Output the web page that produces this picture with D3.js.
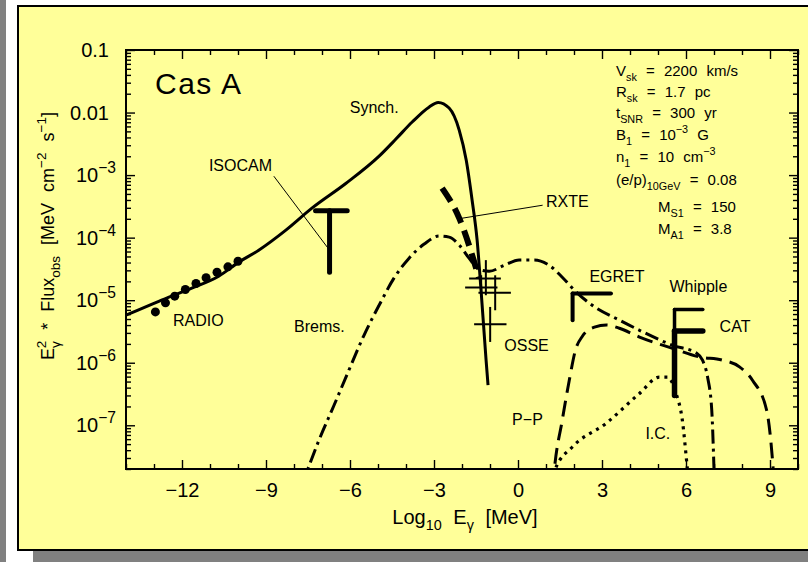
<!DOCTYPE html>
<html>
<head>
<meta charset="utf-8">
<script src="https://cdn.jsdelivr.net/npm/d3@7"></script>
<style>
  html, body { margin: 0; padding: 0; background: #fff; }
  svg { display: block; font-family: "Liberation Sans", Arial, Helvetica, sans-serif; }
</style>
</head>
<body>
<svg></svg>
<script>
const w = 808;
const h = 562;

// spectra: [log10 E (MeV), E^2 * flux (MeV cm^-2 s^-1)]
const synch = [
  [-14.0, 5.75e-6], [-12.83, 9.6e-6], [-11.65, 1.56e-5], [-10.69, 2.42e-5],
  [-9.97, 4.06e-5], [-9.26, 6.3e-5], [-8.29, 1.32e-4], [-7.36, 2.96e-4],
  [-6.14, 7.4e-4], [-4.96, 2.01e-3], [-4.36, 3.77e-3], [-3.78, 7.05e-3],
  [-3.18, 0.0122], [-2.85, 0.0145], [-2.46, 0.0118], [-2.10, 5.25e-3],
  [-1.85, 1.74e-3], [-1.64, 4.0e-4], [-1.46, 9.1e-5], [-1.32, 1.45e-5],
  [-1.14, 1.1e-6], [-1.07, 4.4e-7]
];
const brems = [
  [-7.75, 1.0e-8], [-7.11, 5.75e-8], [-6.57, 2.09e-7], [-6.04, 7.6e-7],
  [-5.50, 2.75e-6], [-4.96, 8.3e-6], [-4.43, 2.25e-5], [-3.89, 4.7e-5],
  [-3.35, 7.9e-5], [-2.82, 1.06e-4], [-2.46, 1.02e-4], [-2.10, 7.6e-5],
  [-1.75, 4.7e-5], [-1.39, 3.1e-5], [-1.03, 2.9e-5], [-0.49, 3.6e-5],
  [0.04, 4.4e-5], [0.58, 4.4e-5], [1.12, 3.6e-5], [1.58, 2.33e-5],
  [2.01, 1.45e-5], [2.65, 8.3e-6], [3.62, 4.8e-6], [4.34, 3.3e-6],
  [5.52, 1.9e-6], [6.38, 1.42e-6], [6.59, 1.1e-6], [6.77, 5.9e-7],
  [6.92, 1.74e-7], [6.99, 2.75e-8], [7.02, 1.0e-8]
];
const pp = [
  [1.24, 1.0e-8], [1.30, 1.98e-8], [1.58, 1.2e-7], [1.83, 5.2e-7],
  [2.05, 1.58e-6], [2.30, 2.65e-6], [2.73, 3.7e-6], [3.16, 4.0e-6],
  [3.62, 3.56e-6], [4.34, 2.57e-6], [5.52, 1.7e-6], [6.48, 1.24e-6],
  [7.30, 1.1e-6], [7.91, 8.6e-7], [8.38, 5.2e-7], [8.88, 1.74e-7],
  [9.09, 2.75e-8], [9.16, 1.0e-8]
];
const ic = [
  [1.20, 1.2e-8], [1.33, 1.98e-8], [1.94, 4.5e-8], [3.14, 1.07e-7],
  [4.33, 3.2e-7], [5.05, 5.9e-7], [5.34, 5.9e-7], [5.65, 3.2e-7],
  [5.87, 1.2e-7], [6.05, 2.0e-8], [6.10, 1.2e-8]
];
const rxte = [[-2.71, 6.2e-4], [-2.10, 2.05e-4], [-1.39, 2.25e-5]];

// radio points
const radioX = [-12.95, -12.59, -12.26, -11.88, -11.50, -11.14, -10.75, -10.36, -10.0];
const radioY = [6.5e-6, 9.06e-6, 1.16e-5, 1.48e-5, 1.85e-5, 2.28e-5, 2.8e-5, 3.41e-5, 4.2e-5];

// OSSE crosses
const osseX = [-1.148, -1.316, -0.815, -0.994];
const osseXlo = [-1.745, -1.888, -1.413, -1.567];
const osseXhi = [-0.612, -0.733, -0.254, -0.411];
const osseY = [2.22e-5, 1.6e-5, 1.31e-5, 4.13e-6];
const osseYlo = [1.2e-5, 1.2e-5, 6.9e-6, 2.15e-6];
const osseYhi = [4.37e-5, 2.5e-5, 2.5e-5, 7.8e-6];

// upper limits
const limitNames = ['ISOCAM', 'EGRET', 'Whipple', 'CAT'];
const limitX0 = [-7.23, 1.95, 5.59, 5.59];
const limitX1 = [-6.10, 3.32, 6.60, 6.60];
const limitStem = [-6.73, 1.95, 5.59, 5.59];
const limitFlux = [2.69e-4, 1.28e-5, 7.1e-6, 3.23e-6];
const limitLow = [2.8e-5, 4.8e-6, 3.23e-6, 3.0e-7];

// curve / instrument labels
const labelText = ['Synch.', 'ISOCAM', 'RADIO', 'Brems.', 'RXTE', 'OSSE', 'EGRET', 'Whipple', 'CAT', 'P\u2212P', 'I.C.'];
const labelX = [-6.01, -11.04, -12.32, -8.0, 1.0, -0.49, 2.55, 5.41, 7.20, -0.21, 4.55];
const labelY = [9.9e-3, 1.16e-3, 3.88e-6, 3.1e-6, 3.11e-4, 1.55e-6, 1.96e-5, 1.34e-5, 3.1e-6, 1.0e-7, 5.97e-8];

// leader lines [x0, y0, x1, y1]
const leaders = [
  [-8.72, 9.6e-4, -6.73, 6.3e-5],
  [-2.04, 2.03e-4, 0.88, 3.3e-4]
];

const xTicksMajor = [-12, -9, -6, -3, 0, 3, 6, 9];
const xTicksMinor = d3.range(-14, 11).filter(d => d % 3 !== 0);
const yTickValues = [0.1, 0.01, 1e-3, 1e-4, 1e-5, 1e-6, 1e-7];
const yTickLabels = [['0.1'], ['0.01'], ['10', '\u22123'], ['10', '\u22124'], ['10', '\u22125'], ['10', '\u22126'], ['10', '\u22127']];

const svg = d3.select('svg').attr('width', w).attr('height', h);

// page, shadow and panel
svg.append('rect').attr('width', w).attr('height', h).attr('fill', '#fff');
svg.append('rect').attr('width', 6).attr('height', h).attr('fill', '#808080');
svg.append('rect').attr('x', 33).attr('y', 22).attr('width', w).attr('height', 544).attr('fill', '#808080');
svg.append('rect').attr('x', 18).attr('y', 6).attr('width', w).attr('height', 544)
  .attr('fill', '#ffff99').attr('stroke', '#000').attr('stroke-width', 2);

const pL = 126, pR = 798, pT = 50, pB = 469;
const x = d3.scaleLinear().domain([-14, 10]).range([pL, pR]);
const y = d3.scaleLog().domain([2e-8, 0.1]).range([pB, pT]);

svg.append('clipPath').attr('id', 'clip')
  .append('rect').attr('x', pL).attr('y', pT).attr('width', pR - pL).attr('height', pB - pT);

// rich text helper: parts = [text, 'sub'|'sup'|null, dx]
function rich(t, parts, size, scale = 0.68) {
  let shift = 0;
  parts.forEach(([txt, kind, dx]) => {
    const target = kind === 'sub' ? size * 0.32 : kind === 'sup' ? -size * 0.45 : 0;
    const s = t.append('tspan').text(txt).attr('dy', target - shift);
    if (kind) s.attr('font-size', size * scale);
    if (dx) s.attr('dx', dx);
    shift = target;
  });
}

// axes
const minus = d => (d < 0 ? '\u2212' + Math.abs(d) : String(d));
function styleAxis(g) {
  g.select('.domain').remove();
  g.selectAll('line').attr('stroke', '#000').attr('stroke-width', 1.4);
  g.selectAll('text').attr('fill', '#000');
}
svg.append('g').attr('transform', `translate(0,${pB})`)
  .call(d3.axisBottom(x).tickValues(xTicksMajor).tickSize(-9).tickPadding(14).tickFormat(minus))
  .call(styleAxis)
  .call(g => g.attr('font-family', null).attr('font-size', 20));
svg.append('g').attr('transform', `translate(0,${pB})`)
  .call(d3.axisBottom(x).tickValues(xTicksMinor).tickSize(-5).tickFormat(''))
  .call(styleAxis);
svg.append('g').attr('transform', `translate(0,${pT})`)
  .call(d3.axisTop(x).tickValues(xTicksMajor).tickSize(-9).tickFormat(''))
  .call(styleAxis);
svg.append('g').attr('transform', `translate(0,${pT})`)
  .call(d3.axisTop(x).tickValues(xTicksMinor).tickSize(-5).tickFormat(''))
  .call(styleAxis);

const yMinor = [];
[1e-8, 1e-7, 1e-6, 1e-5, 1e-4, 1e-3, 1e-2].forEach(d => {
  for (let k = 2; k <= 9; k++) if (k * d >= 2e-8 && k * d < 0.1) yMinor.push(k * d);
});
[[d3.axisLeft, pL], [d3.axisRight, pR]].forEach(([axis, pos]) => {
  svg.append('g').attr('transform', `translate(${pos},0)`)
    .call(axis(y).tickValues(yTickValues).tickSize(-9).tickFormat(''))
    .call(styleAxis);
  svg.append('g').attr('transform', `translate(${pos},0)`)
    .call(axis(y).tickValues(yMinor).tickSize(-5).tickFormat(''))
    .call(styleAxis);
});

// y tick labels
yTickValues.forEach((v, i) => {
  const lab = yTickLabels[i];
  const t = svg.append('text').attr('font-size', 20).attr('text-anchor', 'end')
    .attr('x', lab.length > 1 ? 116 : 109).attr('y', y(v) + 7);
  if (lab.length > 1) rich(t, [[lab[0]], [lab[1], 'sup']], 20, 0.78);
  else t.text(lab[0]);
});

svg.append('rect').attr('x', pL).attr('y', pT).attr('width', pR - pL).attr('height', pB - pT)
  .attr('fill', 'none').attr('stroke', '#000').attr('stroke-width', 2);

// axis titles
const xt = svg.append('text').attr('x', 465).attr('y', 524).attr('text-anchor', 'middle')
  .attr('font-size', 20).attr('word-spacing', 6);
rich(xt, [['Log'], ['10', 'sub'], [' E'], ['\u03b3', 'sub'], [' [MeV]']], 20, 0.72);
const yt = svg.append('text').attr('transform', 'translate(54,236) rotate(-90)')
  .attr('text-anchor', 'middle').attr('font-size', 18).attr('word-spacing', 6);
rich(yt, [['E'], ['\u03b3', 'sub'], ['2', 'sup', -7], [' * Flux'], ['obs', 'sub'], [' [MeV cm'], ['\u22122', 'sup'], [' s'], ['\u22121', 'sup'], [']']], 18, 0.75);

// curves
const plot = svg.append('g').attr('clip-path', 'url(#clip)');
const line = d3.line().x(d => x(d[0])).y(d => y(d[1])).curve(d3.curveMonotoneX);
const curveStyles = [
  [synch, null, 3],
  [brems, '14,5,3,5', 3],
  [pp, '16,8', 3],
  [ic, '3,5', 3.2],
  [rxte, '16,8', 6]
];
curveStyles.forEach(([data, dash, sw]) => {
  plot.append('path').datum(data).attr('d', line)
    .attr('fill', 'none').attr('stroke', '#000').attr('stroke-width', sw)
    .attr('stroke-dasharray', dash);
});

// radio points
plot.selectAll('circle.radio').data(radioX).join('circle')
  .attr('cx', d => x(d)).attr('cy', (d, i) => y(radioY[i])).attr('r', 4.5).attr('fill', '#000');

// OSSE crosses
osseX.forEach((d, i) => {
  plot.append('line').attr('x1', x(osseXlo[i])).attr('x2', x(osseXhi[i]))
    .attr('y1', y(osseY[i])).attr('y2', y(osseY[i])).attr('stroke', '#000').attr('stroke-width', 2);
  plot.append('line').attr('x1', x(d)).attr('x2', x(d))
    .attr('y1', y(osseYlo[i])).attr('y2', y(osseYhi[i])).attr('stroke', '#000').attr('stroke-width', 2);
});

// upper limits
const limitStroke = { ISOCAM: 5, EGRET: 4, Whipple: 3.5, CAT: 5.5 };
limitNames.forEach((n, i) => {
  plot.append('line').attr('x1', x(limitX0[i])).attr('x2', x(limitX1[i]))
    .attr('y1', y(limitFlux[i])).attr('y2', y(limitFlux[i]))
    .attr('stroke', '#000').attr('stroke-width', limitStroke[n]).attr('stroke-linecap', 'round');
  plot.append('line').attr('x1', x(limitStem[i])).attr('x2', x(limitStem[i]))
    .attr('y1', y(limitFlux[i])).attr('y2', y(limitLow[i]))
    .attr('stroke', '#000').attr('stroke-width', limitStroke[n]).attr('stroke-linecap', 'round');
});

// leaders
leaders.forEach(l => {
  plot.append('line').attr('x1', x(l[0])).attr('y1', y(l[1])).attr('x2', x(l[2])).attr('y2', y(l[3]))
    .attr('stroke', '#000').attr('stroke-width', 1);
});

// labels
labelText.forEach((t, i) => {
  svg.append('text').attr('x', x(labelX[i])).attr('y', y(labelY[i]))
    .attr('font-size', 16).text(t);
});

svg.append('text').attr('x', 155).attr('y', 94).attr('font-size', 30)
  .attr('letter-spacing', 1.5).text('Cas A');

// model parameters
const params = [
  [['V'], ['sk', 'sub'], [' = 2200 km/s']],
  [['R'], ['sk', 'sub'], [' = 1.7 pc']],
  [['t'], ['SNR', 'sub'], [' = 300 yr']],
  [['B'], ['1', 'sub'], [' = 10'], ['\u22123', 'sup'], [' G']],
  [['n'], ['1', 'sub'], [' = 10 cm'], ['\u22123', 'sup']],
  [['(e/p)'], ['10GeV', 'sub'], [' = 0.08']],
  [['M'], ['S1', 'sub'], [' = 150']],
  [['M'], ['A1', 'sub'], [' = 3.8']]
];
const paramX = [616, 616, 616, 616, 616, 616, 658, 658];
const paramY = [76, 97, 118, 140, 162, 185, 212, 234];
params.forEach((p, i) => {
  const t = svg.append('text').attr('x', paramX[i]).attr('y', paramY[i])
    .attr('font-size', 15).attr('word-spacing', 5);
  rich(t, p, 15, 0.72);
});
</script>
</body>
</html>
